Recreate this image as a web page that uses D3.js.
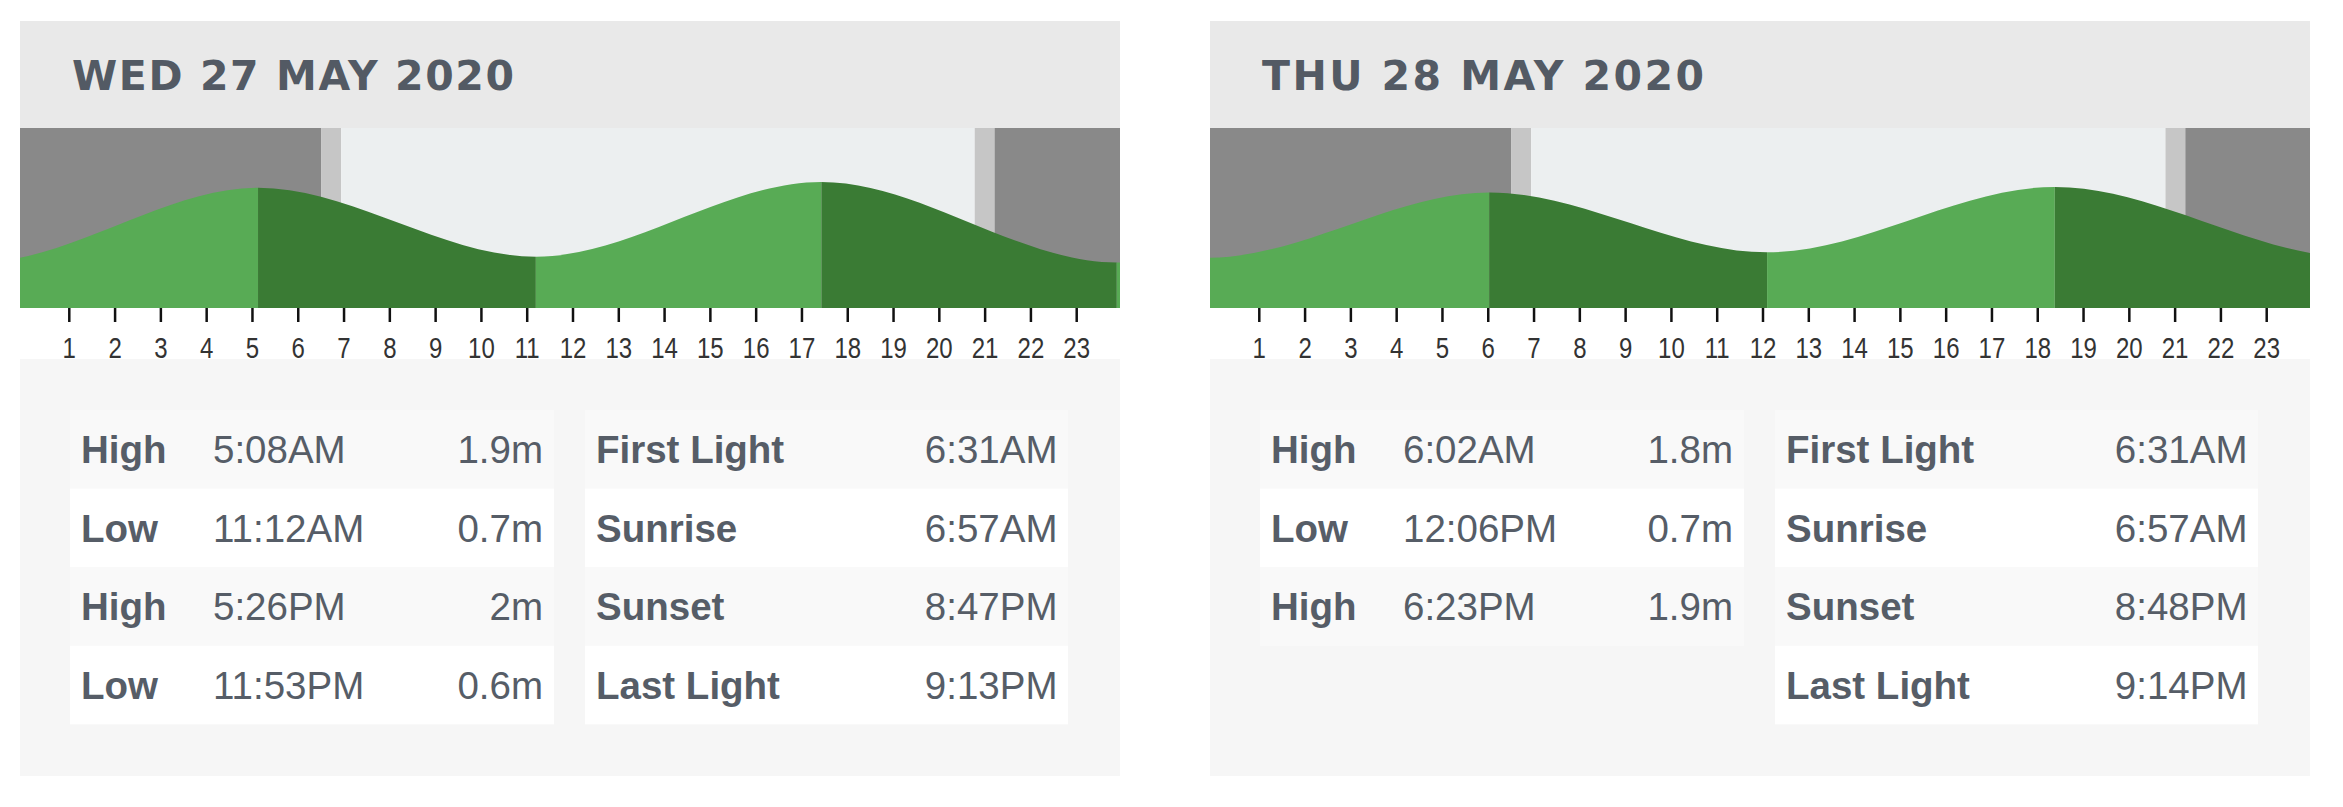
<!DOCTYPE html>
<html>
<head>
<meta charset="utf-8">
<script src="https://cdn.jsdelivr.net/npm/d3@7"></script>
<style>
  body { margin: 0; background: #fff; }
  svg { display: block; }
  .tick line { stroke: #111; stroke-width: 2.5; }
  .tick text { font-family: "Liberation Sans", Arial, sans-serif; font-size: 30px; fill: #333; }
</style>
</head>
<body>
<svg id="chart" width="2343" height="807"></svg>
<script>
// tide + sun data
var dayTitles = ["WED 27 MAY 2020", "THU 28 MAY 2020"];

var wedTideTypes = ["High", "Low", "High", "Low"];
var wedTideTimes = ["5:08AM", "11:12AM", "5:26PM", "11:53PM"];
var wedTideHeights = [1.9, 0.7, 2, 0.6];
// extremes of the day before / after, so the curve runs smoothly to the edges
var wedBeforeTimes = ["4:40PM", "11:00PM"];
var wedBeforeHeights = [1.9, 0.6];
var wedAfterTimes = ["6:02AM", "12:06PM"];
var wedAfterHeights = [1.8, 0.7];

var thuTideTypes = ["High", "Low", "High"];
var thuTideTimes = ["6:02AM", "12:06PM", "6:23PM"];
var thuTideHeights = [1.8, 0.7, 1.9];
var thuBeforeTimes = ["5:26PM", "11:53PM"];
var thuBeforeHeights = [2, 0.6];
var thuAfterTimes = ["1:00AM", "7:10AM"];
var thuAfterHeights = [0.6, 1.8];

var sunLabels = ["First Light", "Sunrise", "Sunset", "Last Light"];
var wedSunTimes = ["6:31AM", "6:57AM", "8:47PM", "9:13PM"];
var thuSunTimes = ["6:31AM", "6:57AM", "8:48PM", "9:14PM"];

var hourTicks = d3.range(1, 24);

function toHours(s) {
  var m = s.match(/(\d+):(\d+)(AM|PM)/);
  return (+m[1] % 12) + (m[3] == "PM" ? 12 : 0) + (+m[2]) / 60;
}

var days = [
  { title: dayTitles[0], types: wedTideTypes, times: wedTideTimes, heights: wedTideHeights,
    before: [wedBeforeTimes, wedBeforeHeights], after: [wedAfterTimes, wedAfterHeights],
    sun: wedSunTimes, left: 20, yRange: [297, 124.5] },
  { title: dayTitles[1], types: thuTideTypes, times: thuTideTimes, heights: thuTideHeights,
    before: [thuBeforeTimes, thuBeforeHeights], after: [thuAfterTimes, thuAfterHeights],
    sun: thuSunTimes, left: 1210, yRange: [290.5, 127] }
];

var W = 1100;
var chartTop = 128, chartBottom = 308;
var font = '"Liberation Sans", Arial, sans-serif';
var textCol = "#565d67";
var fs = "38.5px";

var svg = d3.select("#chart");
var defs = svg.append("defs");

days.forEach(function(day, di) {
  var g = svg.append("g").attr("transform", "translate(" + day.left + ",0)");

  var x = d3.scaleLinear().domain([0, 24]).range([3, 1102]);
  var y = d3.scaleLinear().domain([0, 3]).range(day.yRange);

  // header
  g.append("rect").attr("x", 0).attr("y", 21).attr("width", W).attr("height", chartTop - 21)
    .style("fill", "#e9e9e9");
  g.append("text")
    .attr("x", 52).attr("y", 90)
    .attr("textLength", 442).attr("lengthAdjust", "spacing")
    .style("font-family", '"DejaVu Sans", "Open Sans", sans-serif')
    .style("font-weight", 700).style("font-size", "41px")
    .style("fill", "#535a64")
    .text(day.title);

  // chart clip
  var clipId = "clip" + di;
  defs.append("clipPath").attr("id", clipId)
    .append("rect").attr("x", 0).attr("y", chartTop).attr("width", W).attr("height", chartBottom - chartTop);
  var plot = g.append("g").attr("clip-path", "url(#" + clipId + ")");

  // daylight bands
  var s = day.sun.map(toHours);
  var bands = [
    { a: -1, b: s[0], c: "#898989" },
    { a: s[0], b: s[1], c: "#c6c6c6" },
    { a: s[1], b: s[2], c: "#eceff0" },
    { a: s[2], b: s[3], c: "#c6c6c6" },
    { a: s[3], b: 25, c: "#898989" }
  ];
  plot.selectAll("rect.band").data(bands).enter().append("rect")
    .attr("class", "band")
    .attr("x", d => x(d.a)).attr("width", d => x(d.b) - x(d.a))
    .attr("y", chartTop).attr("height", chartBottom - chartTop)
    .style("fill", d => d.c);

  // tide extremes incl. the ones either side of the day
  var pts = [];
  day.before[0].forEach(function(t, i) { pts.push({ t: toHours(t) - 24, h: day.before[1][i] }); });
  day.times.forEach(function(t, i) { pts.push({ t: toHours(t), h: day.heights[i] }); });
  day.after[0].forEach(function(t, i) { pts.push({ t: toHours(t) + 24, h: day.after[1][i] }); });

  var area = d3.area()
    .x(d => x(d.t))
    .y0(chartBottom)
    .y1(d => y(d.h))
    .curve(d3.curveMonotoneX);

  var tideClip = "tide" + di;
  defs.append("clipPath").attr("id", tideClip)
    .append("path").attr("d", area(pts));

  var segs = d3.pairs(pts).map(p => ({ a: p[0].t, b: p[1].t, rising: p[1].h > p[0].h }));
  plot.append("g").attr("clip-path", "url(#" + tideClip + ")")
    .selectAll("rect").data(segs).enter().append("rect")
    .attr("x", d => x(d.a)).attr("width", d => x(d.b) - x(d.a))
    .attr("y", chartTop).attr("height", chartBottom - chartTop)
    .style("fill", d => d.rising ? "#58ab55" : "#3a7b34");

  // hour axis
  var axis = g.append("g").attr("transform", "translate(0," + chartBottom + ")")
    .call(d3.axisBottom(x).tickValues(hourTicks).tickSize(14).tickFormat(d3.format("d")));
  axis.select(".domain").remove();
  axis.selectAll(".tick text")
    .attr("y", 50).attr("dy", 0)
    .attr("transform", "scale(0.8,1)");

  // tables
  g.append("rect").attr("x", 0).attr("y", 359).attr("width", W).attr("height", 417)
    .style("fill", "#f6f6f6");

  var rowTop = 410, rowH = 78.6;

  var tide = g.append("g").attr("transform", "translate(50,0)");
  var tRows = tide.selectAll("g").data(day.times).enter().append("g")
    .attr("transform", (d, i) => "translate(0," + (rowTop + i * rowH) + ")");
  tRows.append("rect").attr("width", 484).attr("height", rowH)
    .style("fill", (d, i) => i % 2 ? "#ffffff" : "#f9f9f9");
  tRows.append("text").attr("x", 11).attr("y", 53)
    .style("font-family", font).style("font-weight", 700).style("font-size", fs).style("fill", textCol)
    .text((d, i) => day.types[i]);
  tRows.append("text").attr("x", 143).attr("y", 53)
    .style("font-family", font).style("font-size", fs).style("fill", textCol)
    .text(d => d);
  tRows.append("text").attr("x", 473).attr("y", 53).attr("text-anchor", "end")
    .style("font-family", font).style("font-size", fs).style("fill", textCol)
    .text((d, i) => day.heights[i] + "m");

  var sun = g.append("g").attr("transform", "translate(565,0)");
  var sRows = sun.selectAll("g").data(day.sun).enter().append("g")
    .attr("transform", (d, i) => "translate(0," + (rowTop + i * rowH) + ")");
  sRows.append("rect").attr("width", 483).attr("height", rowH)
    .style("fill", (d, i) => i % 2 ? "#ffffff" : "#f9f9f9");
  sRows.append("text").attr("x", 11).attr("y", 53)
    .style("font-family", font).style("font-weight", 700).style("font-size", fs).style("fill", textCol)
    .text((d, i) => sunLabels[i]);
  sRows.append("text").attr("x", 472.5).attr("y", 53).attr("text-anchor", "end")
    .style("font-family", font).style("font-size", fs).style("fill", textCol)
    .text(d => d);
});
</script>
</body>
</html>
